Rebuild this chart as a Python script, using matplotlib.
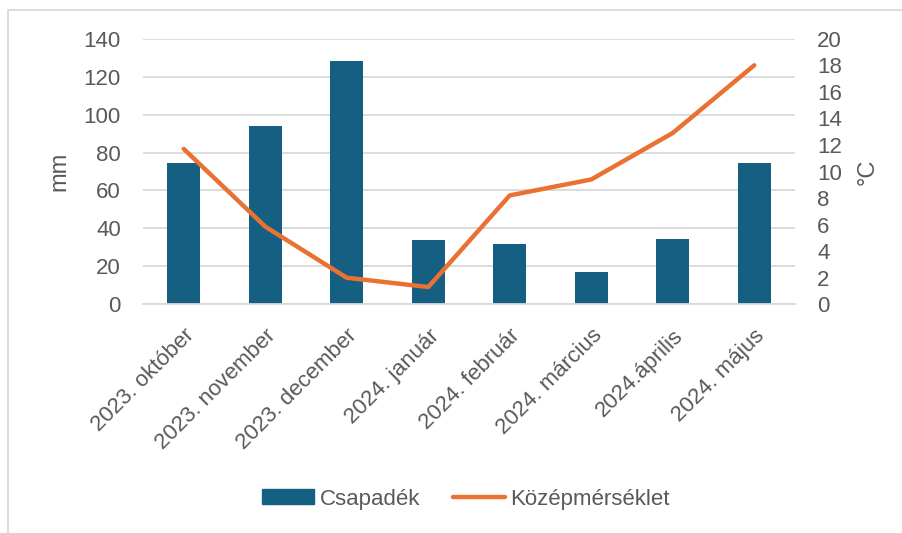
import matplotlib
matplotlib.use("Agg")
import matplotlib.pyplot as plt
from matplotlib.patches import Rectangle
from matplotlib.lines import Line2D
import numpy as np

categories = ["2023. október", "2023. november", "2023. december", "2024. január",
              "2024. február", "2024. március", "2024.április", "2024. május"]
precip_mm = [74.5, 93.8, 128.0, 33.8, 32.0, 16.8, 34.3, 74.5]
temp_c = [11.7, 5.85, 2.0, 1.3, 8.2, 9.4, 12.9, 18.0]

bar_color = "#156082"
line_color = "#E97132"
text_color = "#595959"
grid_color = "#D9D9D9"
fs = 16

plt.rcParams['font.family'] = ['Liberation Sans', 'DejaVu Sans']

fig = plt.figure(figsize=(9.03, 5.33), dpi=100)
W, H = 903, 533
ax = fig.add_axes([143 / W, 1 - 304.3 / H, (795 - 143) / W, (304.3 - 38.7) / H])
ax2 = ax.twinx()

x = np.arange(len(categories))
ax.bar(x, precip_mm, width=0.41, color=bar_color, zorder=2)
ax2.plot(x, temp_c, color=line_color, linewidth=3.2, solid_capstyle='round', zorder=3)

ax.set_xlim(-0.5, len(categories) - 0.5)
ax.set_ylim(0, 140)
ax.set_yticks(np.arange(0, 141, 20))
ax2.set_ylim(0, 20)
ax2.set_yticks(np.arange(0, 21, 2))

ax.yaxis.grid(True, color=grid_color, linewidth=1.3, zorder=0)
ax.set_axisbelow(True)
for a in (ax, ax2):
    for s in a.spines.values():
        s.set_visible(False)
    a.tick_params(length=0, colors=text_color, labelsize=fs)
ax.spines['bottom'].set_visible(True)
ax.spines['bottom'].set_color(grid_color)
ax.spines['bottom'].set_linewidth(1.3)

ax.tick_params(axis='y', pad=16)
ax2.tick_params(axis='y', pad=16)
ax.set_xticks(x)
ax.set_xticklabels(categories, rotation=45, ha='right', rotation_mode='anchor', fontsize=fs, color=text_color)
ax.tick_params(axis='x', pad=15)

ax.set_ylabel("mm", fontsize=fs + 1, color=text_color)
ax.yaxis.set_label_coords(-0.112, 0.5)
ax2.set_ylabel("°C", fontsize=fs + 1, color=text_color)
ax2.yaxis.set_label_coords(1.095, 0.5)

ax2.set_zorder(ax.get_zorder() + 1)
ax2.patch.set_visible(False)

handles = [Rectangle((0, 0), 1, 1, color=bar_color),
           Line2D([0], [0], color=line_color, linewidth=3.2, solid_capstyle='round')]
fig.legend(handles, ["Csapadék", "Középmérséklet"], loc='center', bbox_to_anchor=(466 / W, 1 - 499 / H),
           ncol=2, frameon=False, fontsize=fs, labelcolor=text_color, handlelength=2.35,
           handleheight=0.65, handletextpad=0.25, columnspacing=1.45)

border = Rectangle((8 / W, -0.05), 1.2, 1 - 10 / H + 0.05, transform=fig.transFigure,
                   fill=False, edgecolor="#D9D9D9", linewidth=1.3)
fig.patches.append(border)

fig.savefig("out.png", dpi=100)
